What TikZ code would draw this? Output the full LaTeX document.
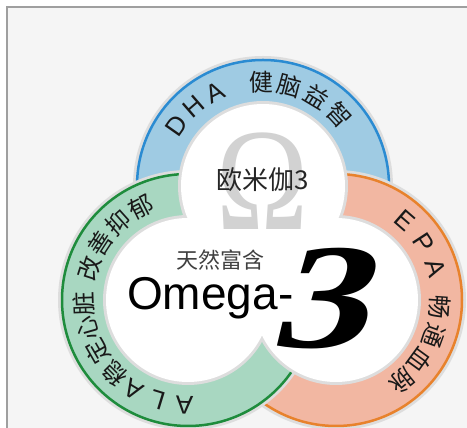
\documentclass[tikz,border=0pt]{standalone}
\usepackage{fontspec}
\newfontfamily\cjk{Noto Sans CJK SC}
\newfontfamily\lat{Liberation Sans}
\newfontfamily\tms{Liberation Serif}
\definecolor{dhaline}{HTML}{2A8BD2}
\definecolor{dhaband}{HTML}{9FCBE3}
\definecolor{alaline}{HTML}{1E8C3C}
\definecolor{alaband}{HTML}{A8D7C1}
\definecolor{epaline}{HTML}{E8822C}
\definecolor{epaband}{HTML}{F2B7A2}
\definecolor{halo}{HTML}{DDDDDD}
\definecolor{paper}{HTML}{F5F5F5}
\definecolor{omegagray}{HTML}{D2D2D2}
\tikzset{
  hanzi/.style={inner sep=0pt, text=black!90, font=\cjk\fontsize{24}{24}\selectfont},
  latin/.style={inner sep=0pt, text=black!90, font=\lat\fontsize{26}{26}\selectfont},
  ring/.style={line width=2.5pt}
}

\begin{document}
\begin{tikzpicture}[x=1pt,y=1pt]
\useasboundingbox (0,0) rectangle (467,428);
\clip (0,0) rectangle (467,428);
\fill[white] (0,0) rectangle (467,428);
\fill[paper] (7,0) rectangle (467,421);
\draw[gray!75, line width=1.2pt] (7,0) -- (7,421) -- (467,421);

\coordinate (B) at (263,242);
\coordinate (G) at (188,128);
\coordinate (O) at (336,128);

% rings, back to front
\fill[halo] (B) circle (130);
\filldraw[ring, fill=dhaband, draw=dhaline] (B) circle (126);
\fill[halo] (O) circle (130);
\filldraw[ring, fill=epaband, draw=epaline] (O) circle (126);
\fill[halo] (G) circle (130);
\filldraw[ring, fill=alaband, draw=alaline] (G) circle (126);

% white centre
\fill[halo] (B) circle (85);
\fill[halo] (O) circle (85);
\fill[halo] (G) circle (85);
\fill[white] (B) circle (82);
\fill[white] (O) circle (82);
\fill[white] (G) circle (82);

\begin{scope}[shift={(B)}]
    \node[latin, rotate=55] (d1) at (145:105) {D};
    \node[latin, rotate=41] (d2) at (131:105) {H};
    \node[latin, rotate=27] (d3) at (117:105) {A};
    \node[hanzi, rotate=1] (d4) at (91:104) {健};
    \node[hanzi, rotate=-15] (d5) at (75:104) {脑};
    \node[hanzi, rotate=-31] (d6) at (59:104) {益};
    \node[hanzi, rotate=-47] (d7) at (43:104) {智};
\end{scope}

\begin{scope}[shift={(O)}]
    \node[latin, rotate=-41] (e1) at (49:105) {E};
    \node[latin, rotate=-57] (e2) at (33:105) {P};
    \node[latin, rotate=-72] (e3) at (18:105) {A};
    \node[hanzi, rotate=-94] (e4) at (-4:104) {畅};
    \node[hanzi, rotate=-110] (e5) at (-20:104) {通};
    \node[hanzi, rotate=-126] (e6) at (-36:104) {血};
    \node[hanzi, rotate=-141] (e7) at (-51:104) {脉};
\end{scope}

\begin{scope}[shift={(G)}]
    \node[latin, rotate=178] (a1) at (268:105) {A};
    \node[latin, rotate=163] (a2) at (253:105) {L};
    \node[latin, rotate=149] (a3) at (239:105) {A};
    \node[hanzi, rotate=135] (a4) at (225:104) {稳};
    \node[hanzi, rotate=120] (a5) at (210:104) {定};
    \node[hanzi, rotate=106] (a6) at (196:104) {心};
    \node[hanzi, rotate=92] (a7) at (182:104) {脏};
    \node[hanzi, rotate=72] (a8) at (162:104) {改};
    \node[hanzi, rotate=57] (a9) at (147:104) {善};
    \node[hanzi, rotate=42] (a10) at (132:104) {抑};
    \node[hanzi, rotate=27] (a11) at (117:104) {郁};
\end{scope}

\node[inner sep=0pt, text=omegagray, xscale=0.85] (omega) at (263,247) {\tms\fontsize{146}{146}\selectfont Ω};
\node[inner sep=0pt, text=black!85, font=\cjk\fontsize{26}{26}\selectfont] (name) at (263,248) {欧米伽3};
\node[inner sep=0pt, text=black!75, font=\cjk\fontsize{22}{22}\selectfont] (rich) at (220,168) {天然富含};
\node[inner sep=0pt, anchor=base west, font=\lat\fontsize{46}{46}\selectfont] (omg) at (127,118) {Omega-};
\node[inner sep=0pt, anchor=base west, xscale=1.3, xslant=0.22, font=\tms\bfseries\fontsize{150}{150}\selectfont] (three) at (268,80) {3};
\end{tikzpicture}
\end{document}
